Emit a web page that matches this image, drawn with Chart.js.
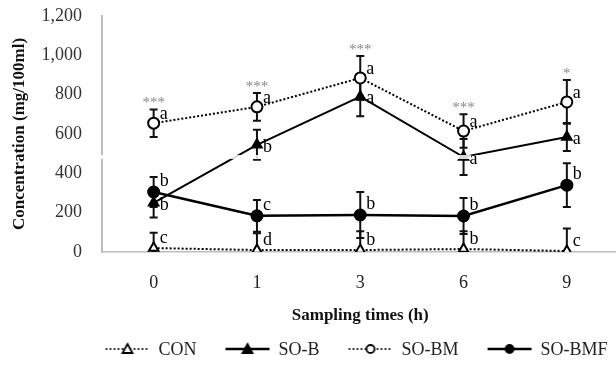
<!DOCTYPE html>
<html>
<head>
<meta charset="utf-8">
<script src="https://cdn.jsdelivr.net/npm/chart.js@4.4.0/dist/chart.umd.min.js"></script>
<style>
  html, body { margin: 0; padding: 0; background: #fff; overflow: hidden; }
  #wrap { width: 626px; height: 379px; }
</style>
</head>
<body>
<div id="wrap"><canvas id="chart"></canvas></div>
<script>
// datos
const times = ['0', '1', '3', '6', '9'];

const conVals  = [20, 10, 10, 15, 5];
const conErr   = [78, 85, 95, 90, 115];
const conSig   = ['c', 'd', 'b', 'b', 'c'];

const sobVals  = [250, 545, 790, 483, 585];
const sobErr   = [75, 76, 100, 92, 71];
const sobSig   = ['b', 'b', 'a', 'a', 'a'];

const sobmVals = [655, 738, 885, 615, 763];
const sobmErr  = [70, 70, 111, 85, 111];
const sobmSig  = ['a', 'a', 'a', 'a', 'a'];
const stars    = ['***', '***', '***', '***', '*'];

const sobmfVals = [305, 184, 188, 183, 340];
const sobmfErr  = [76, 81, 117, 92, 111];
const sobmfSig  = ['b', 'c', 'b', 'b', 'b'];

const yTicks = [0, 200, 400, 600, 800, 1000, 1200];

const FONT = "'Liberation Serif', 'Times New Roman', serif";

// muestra de linea + marcador para la leyenda
function legendSample(dashed, marker, filled) {
  const c = document.createElement('canvas');
  c.width = 46; c.height = 14;
  const g = c.getContext('2d');
  g.strokeStyle = '#000';
  g.lineWidth = dashed ? 1.5 : 2.5;
  g.setLineDash(dashed ? [2, 2] : []);
  g.beginPath(); g.moveTo(1, 7); g.lineTo(45, 7); g.stroke();
  g.setLineDash([]);
  g.lineWidth = 1.8;
  g.fillStyle = filled ? '#000' : '#fff';
  g.beginPath();
  if (marker === 'triangle') {
    g.moveTo(23, 2); g.lineTo(28, 11); g.lineTo(18, 11); g.closePath();
  } else {
    g.arc(23, 7, 4, 0, Math.PI * 2);
  }
  g.fill(); g.stroke();
  return c;
}

const series = [
  { label: 'CON',    data: conVals,   err: conErr,   sig: conSig,   dash: [2, 2], style: 'triangle', filled: false, width: 2,   dy: -10 },
  { label: 'SO-B',   data: sobVals,   err: sobErr,   sig: sobSig,   dash: [],     style: 'triangle', filled: true,  width: 2,   dy: 2 },
  { label: 'SO-BM',  data: sobmVals,  err: sobmErr,  sig: sobmSig,  dash: [2, 2], style: 'circle',   filled: false, width: 2,   dy: -9 },
  { label: 'SO-BMF', data: sobmfVals, err: sobmfErr, sig: sobmfSig, dash: [],     style: 'circle',   filled: true,  width: 2.5, dy: -11 }
];

const samples = series.map(s => legendSample(s.dash.length > 0, s.style, s.filled));

// barras de error, letras, asteriscos, corte del eje y leyenda
const extrasPlugin = {
  id: 'extras',
  beforeDatasetsDraw(chart) {
    const ctx = chart.ctx;
    const y = chart.scales.y;
    ctx.save();
    ctx.strokeStyle = '#111';
    ctx.lineWidth = 2;
    chart.data.datasets.forEach((ds, i) => {
      const meta = chart.getDatasetMeta(i);
      meta.data.forEach((pt, j) => {
        const v = ds.data[j], e = series[i].err[j];
        const top = y.getPixelForValue(v + e);
        const bot = y.getPixelForValue(Math.max(v - e, 0));
        ctx.beginPath();
        ctx.moveTo(pt.x, top); ctx.lineTo(pt.x, bot);
        ctx.moveTo(pt.x - 4, top); ctx.lineTo(pt.x + 4, top);
        if (v - e > 0) { ctx.moveTo(pt.x - 4, bot); ctx.lineTo(pt.x + 4, bot); }
        ctx.stroke();
      });
    });
    ctx.restore();
  },
  afterDatasetsDraw(chart) {
    const ctx = chart.ctx;
    const y = chart.scales.y;
    const area = chart.chartArea;
    ctx.save();
    // corte del eje
    const by = y.getPixelForValue(483);
    ctx.fillStyle = 'rgba(255,255,255,0.85)';
    ctx.fillRect(area.left - 3, by - 2, area.right - area.left + 3, 4);
    // letras de significancia
    ctx.fillStyle = '#000';
    ctx.font = '18px ' + FONT;
    ctx.textAlign = 'left';
    ctx.textBaseline = 'middle';
    chart.data.datasets.forEach((ds, i) => {
      const meta = chart.getDatasetMeta(i);
      meta.data.forEach((pt, j) => {
        ctx.fillText(series[i].sig[j], pt.x + 6, pt.y + series[i].dy);
      });
    });
    // asteriscos sobre SO-BM
    ctx.fillStyle = '#888';
    ctx.font = '15px ' + FONT;
    ctx.textAlign = 'center';
    const bm = chart.getDatasetMeta(2);
    bm.data.forEach((pt, j) => {
      const top = y.getPixelForValue(sobmVals[j] + sobmErr[j]);
      ctx.fillText(stars[j], pt.x, top - 6);
    });
    ctx.restore();
  },
  afterDraw(chart) {
    // leyenda propia: linea + marcador y texto
    const ctx = chart.ctx;
    ctx.save();
    ctx.font = '18px ' + FONT;
    ctx.fillStyle = '#222';
    ctx.textAlign = 'left';
    ctx.textBaseline = 'middle';
    const gap = 8, spacing = 28;
    const widths = series.map(s => samples[0].width + gap + ctx.measureText(s.label).width);
    const total = widths.reduce((a, b) => a + b, 0) + spacing * (series.length - 1);
    let x = 356 - total / 2;
    const yc = 349;
    series.forEach((s, i) => {
      ctx.drawImage(samples[i], x, yc - samples[i].height / 2);
      ctx.fillText(s.label, x + samples[i].width + gap, yc + 1);
      x += widths[i] + spacing;
    });
    ctx.restore();
  }
};

new Chart(document.getElementById('chart'), {
  type: 'line',
  data: {
    labels: times,
    datasets: series.map(s => ({
      label: s.label,
      data: s.data,
      borderColor: '#000',
      borderWidth: s.width,
      borderDash: s.dash,
      pointStyle: s.style,
      pointRadius: 5.5,
      pointBorderWidth: 2,
      pointBorderColor: '#000',
      pointBackgroundColor: s.filled ? '#000' : '#fff',
      tension: 0,
      fill: false
    }))
  },
  options: {
    responsive: true,
    maintainAspectRatio: false,
    animation: false,
    locale: 'en-US',
    layout: { padding: { top: 16, left: 4, right: 0, bottom: 45 } },
    plugins: {
      tooltip: { enabled: false },
      legend: { display: false }
    },
    scales: {
      x: {
        offset: true,
        grid: { display: false, drawTicks: false },
        border: { display: true, color: '#bdbdbd', width: 1.5 },
        ticks: { font: { family: FONT, size: 18 }, color: '#222', padding: 20 },
        title: {
          display: true,
          text: 'Sampling times (h)',
          font: { family: FONT, size: 17, weight: 'bold' },
          color: '#111',
          padding: { top: 4, bottom: 8 }
        },
        afterFit: s => { s.height = 82; s.paddingLeft = 0; s.paddingRight = 0; }
      },
      y: {
        min: 0,
        max: 1200,
        grid: { display: false, drawTicks: false },
        border: { display: true, color: '#bdbdbd', width: 2 },
        afterBuildTicks: s => { s.ticks = yTicks.map(v => ({ value: v })); },
        ticks: { font: { family: FONT, size: 18 }, color: '#333', padding: 20 },
        title: {
          display: true,
          text: 'Concentration (mg/100ml)',
          font: { family: FONT, size: 17, weight: 'bold' },
          color: '#111',
          padding: { top: 5, bottom: 0 }
        },
        afterFit: s => { s.width = 98; s.paddingTop = 0; s.paddingBottom = 0; }
      }
    }
  },
  plugins: [extrasPlugin]
});
</script>
</body>
</html>
